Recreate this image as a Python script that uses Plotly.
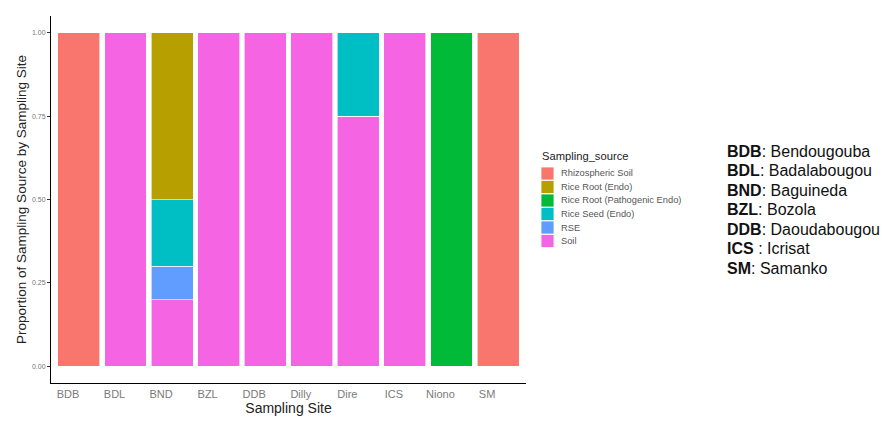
import plotly.graph_objects as go

sites = ["BDB", "BDL", "BND", "BZL", "DDB", "Dilly", "Dire", "ICS", "Niono", "SM"]
sources = ["Rhizospheric Soil", "Rice Root (Endo)", "Rice Root (Pathogenic Endo)",
           "Rice Seed (Endo)", "RSE", "Soil"]
colors = ["#F8766D", "#B79F00", "#00BA38", "#00BFC4", "#619CFF", "#F564E3"]
proportions = {
    "Rhizospheric Soil":           [1, 0, 0,   0, 0, 0, 0,    0, 0, 1],
    "Rice Root (Endo)":            [0, 0, 0.5, 0, 0, 0, 0,    0, 0, 0],
    "Rice Root (Pathogenic Endo)": [0, 0, 0,   0, 0, 0, 0,    0, 1, 0],
    "Rice Seed (Endo)":            [0, 0, 0.2, 0, 0, 0, 0.25, 0, 0, 0],
    "RSE":                         [0, 0, 0.1, 0, 0, 0, 0,    0, 0, 0],
    "Soil":                        [0, 1, 0.2, 1, 1, 1, 0.75, 1, 0, 0],
}
site_names = [("BDB", "Bendougouba"), ("BDL", "Badalabougou"), ("BND", "Baguineda"),
              ("BZL", "Bozola"), ("DDB", "Daoudabougou"), ("ICS ", "Icrisat"), ("SM", "Samanko")]

FONT = "Liberation Sans, Arial, sans-serif"
fig = go.Figure()
# ggplot stacks first level on top -> add in reverse order
for src, col in reversed(list(zip(sources, colors))):
    fig.add_trace(go.Bar(
        x=sites, y=proportions[src], name=src, showlegend=False,
        marker=dict(color=col, line=dict(color="white", width=0.6)),
    ))

L, R, T, B = 51, 356, 16, 40
W, H = 882, 423
pw, ph = W - L - R, H - T - B

def px(x):
    return (x - L) / pw

def py(y):
    return (H - B - y) / ph

fig.update_layout(
    width=W, height=H, barmode="stack", bargap=0.1,
    margin=dict(l=L, r=R, t=T, b=B, pad=0),
    plot_bgcolor="white", paper_bgcolor="white",
    font=dict(family=FONT, color="#333333"),
    showlegend=False,
    xaxis=dict(
        range=[-0.6, 9.6], showline=True, linecolor="black", linewidth=1,
        ticks="", tickfont=dict(size=11, color="#7a7a7a"),
        ticklabelshift=-11, ticklabelstandoff=1,
        title=dict(text="Sampling Site", font=dict(size=14, color="#222222"), standoff=0),
        showgrid=False, zeroline=False,
    ),
    yaxis=dict(
        range=[-0.05, 1.05], showline=True, linecolor="black", linewidth=1,
        tickvals=[0, 0.25, 0.5, 0.75, 1.0], ticktext=["0.00", "0.25", "0.50", "0.75", "1.00"],
        ticks="outside", ticklen=3, tickcolor="#333333",
        tickfont=dict(size=7, color="#777777"),
        title=dict(text="Proportion of Sampling Source by Sampling Site",
                   font=dict(size=13.5, color="#222222"), standoff=2),
        showgrid=False, zeroline=False,
    ),
)

# manual ggplot-style legend
fig.add_annotation(xref="paper", yref="paper", x=px(540), y=py(156),
                   xanchor="left", yanchor="middle", showarrow=False,
                   text="Sampling_source", font=dict(size=11.2, color="#222222", family=FONT))
for i, (src, col) in enumerate(zip(sources, colors)):
    cy = 173.5 + i * 13.5
    fig.add_shape(type="rect", xref="paper", yref="paper",
                  x0=px(541), x1=px(554), y0=py(cy - 6.5), y1=py(cy + 6.5),
                  fillcolor=col, line=dict(color="white", width=0.8))
    fig.add_annotation(xref="paper", yref="paper", x=px(559), y=py(cy),
                       xanchor="left", yanchor="middle", showarrow=False,
                       text=src, font=dict(size=9.3, color="#555555", family=FONT))

for i, (code, name) in enumerate(site_names):
    ypix = 151 + i * 19.5
    fig.add_annotation(
        xref="paper", yref="paper",
        x=px(725), y=py(ypix),
        xanchor="left", yanchor="middle", showarrow=False,
        text=f"<b>{code}</b>: {name}",
        font=dict(size=16, color="#111111", family=FONT),
    )

fig.write_html("out.html")
